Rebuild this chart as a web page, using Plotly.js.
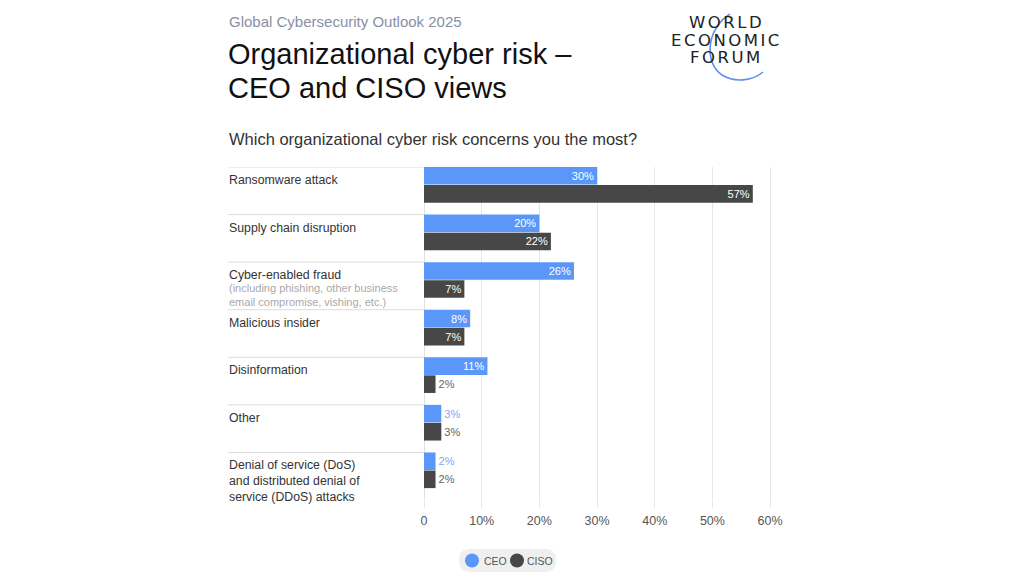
<!DOCTYPE html>
<html>
<head>
<meta charset="utf-8">
<script src="https://cdn.plot.ly/plotly-3.0.1.min.js"></script>
<style>html,body{margin:0;padding:0;background:#fff;}#chart{width:1022px;height:575px;}</style>
</head>
<body>
<div id="chart"></div>
<script>
// ---- data ----
const categories = [
  "Ransomware attack",
  "Supply chain disruption",
  "Cyber-enabled fraud",
  "Malicious insider",
  "Disinformation",
  "Other",
  "Denial of service (DoS)<br>and distributed denial of<br>service (DDoS) attacks"
];
const categoryNotes = ["", "", "(including phishing, other business<br>email compromise, vishing, etc.)", "", "", "", ""];
const ceoValues = [30, 20, 26, 8, 11, 3, 2];
const cisoValues = [57, 22, 7, 7, 2, 3, 2];
const tickValues = [0, 10, 20, 30, 40, 50, 60];
const tickLabels = ["0", "10%", "20%", "30%", "40%", "50%", "60%"];
const seriesNames = ["CEO", "CISO"];

// ---- layout helpers ----
const W = 1022, H = 575;
const M = {l: 424, r: 249, t: 167, b: 75, autoexpand: false};
const PW = W - M.l - M.r, PH = H - M.t - M.b;
const px = x => (x - M.l) / PW;
const py = y => (H - M.b - y) / PH;

const BLUE = "#5b97f8", DARK = "#474747";
const FONT = "Liberation Sans, Arial, Helvetica, sans-serif";
const idx = categories.map((c, i) => i);

function barTrace(name, values, offset, color, outsideColor) {
  return {
    type: "bar", orientation: "h", name: name,
    y: idx, x: values, offset: offset, width: 0.37,
    marker: {color: color},
    text: values.map(v => v + "%"),
    texttemplate: "%{text}",
    textposition: values.map(v => v >= 5 ? "inside" : "outside"),
    insidetextanchor: "end",
    insidetextfont: {color: "#ffffff", size: 11, family: FONT},
    outsidetextfont: {color: outsideColor, size: 11, family: FONT},
    constraintext: "none", cliponaxis: false,
    showlegend: false, hoverinfo: "skip"
  };
}

const traces = [
  barTrace(seriesNames[0], ceoValues, -0.5, BLUE, "#7ea8f2"),
  barTrace(seriesNames[1], cisoValues, -0.12, DARK, "#666666")
];

const annotations = [];
const shapes = [];

// header texts
annotations.push({xref: "paper", yref: "paper", x: px(227), y: py(21.5), xanchor: "left", yanchor: "middle",
  text: "Global Cybersecurity Outlook 2025", showarrow: false,
  font: {family: FONT, size: 15, color: "#8890a3"}});
annotations.push({xref: "paper", yref: "paper", x: px(226), y: py(53.5), xanchor: "left", yanchor: "middle",
  text: "Organizational cyber risk –", showarrow: false,
  font: {family: FONT, size: 29, color: "#111111"}});
annotations.push({xref: "paper", yref: "paper", x: px(226), y: py(87.5), xanchor: "left", yanchor: "middle",
  text: "CEO and CISO views", showarrow: false,
  font: {family: FONT, size: 29, color: "#111111"}});
annotations.push({xref: "paper", yref: "paper", x: px(227), y: py(139), xanchor: "left", yanchor: "middle",
  text: "Which organizational cyber risk concerns you the most?", showarrow: false,
  font: {family: FONT, size: 16.5, color: "#333333"}});

// logo
const logoLines = ["WORLD", "ECONOMIC", "FORUM"];
const logoY = [22.5, 40.5, 57.5];
logoLines.forEach((t, i) => {
  annotations.push({xref: "paper", yref: "paper", x: px(726.5), y: py(logoY[i]), xanchor: "center", yanchor: "middle",
    text: '<span style="letter-spacing:2.5px">' + t + '</span>', showarrow: false,
    font: {family: "DejaVu Sans, sans-serif", size: 16.5, color: "#222222"}});
});
shapes.push({type: "path", xref: "paper", yref: "paper",
  path: "M " + px(730) + " " + py(14) +
        " C " + px(706) + " " + py(29) + " " + px(704) + " " + py(63) + " " + px(722) + " " + py(75) +
        " C " + px(735) + " " + py(83) + " " + px(752) + " " + py(81) + " " + px(763) + " " + py(72),
  line: {color: "#5b8ff0", width: 1.6}});

// category labels & separators
categories.forEach((c, i) => {
  annotations.push({xref: "paper", yref: "y", x: px(227), y: i - 0.5, xanchor: "left", yanchor: "top",
    yshift: -4, align: "left", text: c, showarrow: false,
    font: {family: FONT, size: 12.3, color: "#333333"}});
  if (categoryNotes[i]) {
    annotations.push({xref: "paper", yref: "y", x: px(227), y: i - 0.5, xanchor: "left", yanchor: "top",
      yshift: -18, align: "left", text: categoryNotes[i], showarrow: false,
      font: {family: FONT, size: 11, color: "#a9a9a9"}});
  }
  shapes.push({type: "line", xref: "paper", yref: "y", x0: px(228), x1: 0, y0: i - 0.5, y1: i - 0.5,
    line: {color: "#dcdcdc", width: 1}, layer: "below"});
});

// legend (pill with circle keys)
(function () {
  const x0 = 459, x1 = 556, y0 = 549, y1 = 572, r = 11.5;
  const P = (x, y) => px(x) + " " + py(y);
  shapes.push({type: "path", xref: "paper", yref: "paper", layer: "below",
    path: "M " + P(x0 + r, y0) + " L " + P(x1 - r, y0) + " Q " + P(x1, y0) + " " + P(x1, y0 + r) +
          " Q " + P(x1, y1) + " " + P(x1 - r, y1) + " L " + P(x0 + r, y1) + " Q " + P(x0, y1) + " " + P(x0, y1 - r) +
          " Q " + P(x0, y0) + " " + P(x0 + r, y0) + " Z",
    fillcolor: "#efefef", line: {width: 0}});
  const keyX = [472, 517], textX = [482, 525], colors = [BLUE, DARK];
  seriesNames.forEach((n, i) => {
    shapes.push({type: "circle", xref: "paper", yref: "paper", xsizemode: "pixel", ysizemode: "pixel",
      xanchor: px(keyX[i]), yanchor: py(560.5), x0: -7, x1: 7, y0: -7, y1: 7,
      fillcolor: colors[i], line: {width: 0}});
    annotations.push({xref: "paper", yref: "paper", x: px(textX[i]), y: py(560.5), xanchor: "left", yanchor: "middle",
      text: n, showarrow: false, font: {family: FONT, size: 10.5, color: "#555555"}});
  });
})();

const layout = {
  width: W, height: H,
  margin: M,
  paper_bgcolor: "#ffffff", plot_bgcolor: "#ffffff",
  font: {family: FONT, color: "#333333"},
  barmode: "overlay",
  showlegend: false,
  xaxis: {
    range: [0, 60.5], tickvals: tickValues, ticktext: tickLabels,
    showgrid: true, gridcolor: "#e6e6e6", gridwidth: 1,
    zeroline: true, zerolinecolor: "#e0e0e0", zerolinewidth: 1,
    ticks: "outside", ticklen: 7, tickcolor: "#e6e6e6", tickwidth: 1,
    ticklabelstandoff: 2,
    tickfont: {family: FONT, size: 12.5, color: "#555555"},
    showline: false, fixedrange: true
  },
  yaxis: {
    type: "linear", range: [categories.length - 0.5, -0.5],
    showticklabels: false, showgrid: false, zeroline: false, ticks: "", fixedrange: true
  },
  annotations: annotations,
  shapes: shapes
};

Plotly.newPlot("chart", traces, layout, {displayModeBar: false, staticPlot: true});
</script>
</body>
</html>
